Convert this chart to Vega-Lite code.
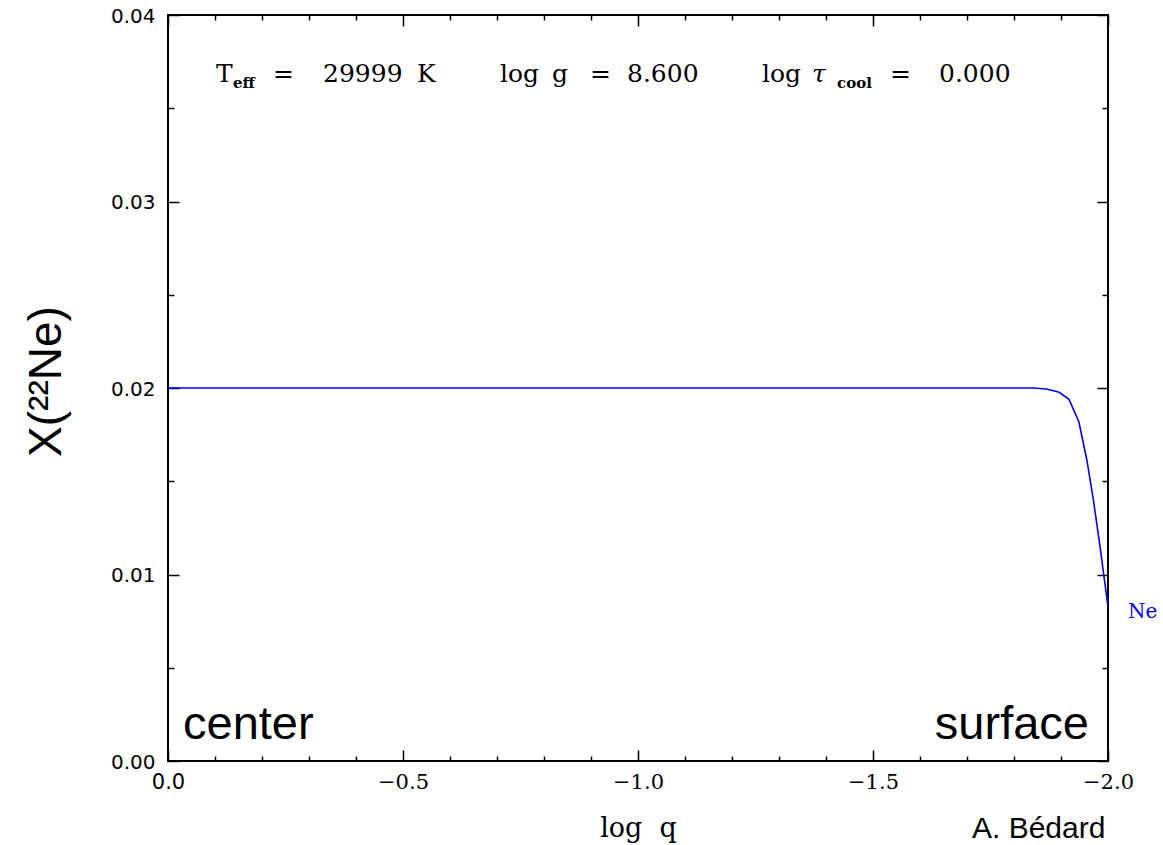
{
  "$schema": "https://vega.github.io/schema/vega-lite/v6.json",
  "width": 940,
  "height": 746,
  "autosize": {"type": "none"},
  "padding": {"left": 168, "top": 15, "right": 55, "bottom": 84},
  "background": "white",
  "config": {
    "view": {"stroke": "#000000", "strokeWidth": 2},
    "axis": {"grid": false, "domain": false, "tickColor": "#000000", "tickWidth": 1.5, "labelColor": "#000000", "titleColor": "#000000"},
    "text": {"color": "#000000"}
  },
  "data": {
    "values": [
      {"logq": 0.0, "X": 0.0200},
      {"logq": -1.0, "X": 0.0200},
      {"logq": -1.84, "X": 0.0200},
      {"logq": -1.869, "X": 0.01995},
      {"logq": -1.896, "X": 0.01977},
      {"logq": -1.917, "X": 0.01939},
      {"logq": -1.938, "X": 0.01819},
      {"logq": -1.955, "X": 0.01614},
      {"logq": -1.969, "X": 0.01399},
      {"logq": -1.983, "X": 0.01149},
      {"logq": -2.0, "X": 0.00827}
    ]
  },
  "resolve": {"axis": {"x": "independent", "y": "independent"}},
  "layer": [
    {
      "mark": {"type": "line", "color": "#0000ff", "strokeWidth": 1.6, "clip": false},
      "encoding": {
        "x": {
          "field": "logq", "type": "quantitative",
          "scale": {"domain": [0, -2], "nice": false, "zero": false},
          "axis": {
            "orient": "bottom",
            "title": "log\u00a0\u00a0q",
            "titleFont": "DejaVu Serif", "titleFontSize": 27, "titleFontWeight": "normal",
            "titlePadding": 17,
            "values": [0, -0.1, -0.2, -0.3, -0.4, -0.5, -0.6, -0.7, -0.8, -0.9, -1.0, -1.1, -1.2, -1.3, -1.4, -1.5, -1.6, -1.7, -1.8, -1.9, -2.0],
            "tickSize": {"condition": {"test": "abs(datum.value*2 - round(datum.value*2)) < 0.001", "value": -11}, "value": -5},
            "labelExpr": "abs(datum.value*2 - round(datum.value*2)) < 0.001 ? format(datum.value, '.1f') : ''",
            "labelFont": {"condition": {"test": "datum.value == 0", "value": "DejaVu Sans"}, "value": "DejaVu Serif"},
            "labelFontSize": 21,
            "labelPadding": 21,
            "labelFlush": false,
            "labelOverlap": false
          }
        },
        "y": {
          "field": "X", "type": "quantitative",
          "scale": {"domain": [0, 0.04], "nice": false, "zero": false},
          "axis": {
            "orient": "left",
            "title": "X(\u00b2\u00b2Ne)",
            "titleFont": "Liberation Sans", "titleFontSize": 46, "titleFontWeight": "normal",
            "titleAngle": -90, "titleBaseline": "alphabetic", "titleAlign": "center",
            "titleX": -108, "titleY": 366,
            "values": [0, 0.005, 0.01, 0.015, 0.02, 0.025, 0.03, 0.035, 0.04],
            "tickSize": {"condition": {"test": "abs(datum.value*100 - round(datum.value*100)) < 0.001", "value": -11}, "value": -6},
            "labelExpr": "abs(datum.value*100 - round(datum.value*100)) < 0.001 ? format(datum.value, '.2f') : ''",
            "labelFont": "DejaVu Sans", "labelFontSize": 20,
            "labelPadding": 24,
            "labelOffset": 1,
            "labelFlush": false,
            "labelOverlap": false
          }
        }
      }
    },
    {
      "transform": [{"filter": "datum.logq == -2"}],
      "mark": {"type": "text", "text": "Ne", "font": "DejaVu Serif", "fontSize": 20, "color": "#0000ff", "align": "left", "baseline": "alphabetic", "dx": 20, "dy": 11, "clip": false},
      "encoding": {
        "x": {
          "field": "logq", "type": "quantitative",
          "axis": {
            "orient": "top", "title": null, "labels": false,
            "values": [0, -0.1, -0.2, -0.3, -0.4, -0.5, -0.6, -0.7, -0.8, -0.9, -1.0, -1.1, -1.2, -1.3, -1.4, -1.5, -1.6, -1.7, -1.8, -1.9, -2.0],
            "tickSize": {"condition": {"test": "abs(datum.value*2 - round(datum.value*2)) < 0.001", "value": -11}, "value": -5}
          }
        },
        "y": {
          "field": "X", "type": "quantitative",
          "axis": {
            "orient": "right", "title": null, "labels": false,
            "values": [0, 0.005, 0.01, 0.015, 0.02, 0.025, 0.03, 0.035, 0.04],
            "tickSize": {"condition": {"test": "abs(datum.value*100 - round(datum.value*100)) < 0.001", "value": -11}, "value": -6}
          }
        }
      }
    },
    {
      "data": {"values": [{}]},
      "mark": {"type": "text", "text": "center", "font": "Liberation Sans", "fontSize": 47, "align": "left", "baseline": "alphabetic"},
      "encoding": {"x": {"datum": -0.0319, "type": "quantitative", "axis": null}, "y": {"datum": 0.00118, "type": "quantitative", "axis": null}}
    },
    {
      "data": {"values": [{}]},
      "mark": {"type": "text", "text": "surface", "font": "Liberation Sans", "fontSize": 47, "align": "right", "baseline": "alphabetic"},
      "encoding": {"x": {"datum": -1.9596, "type": "quantitative", "axis": null}, "y": {"datum": 0.00118, "type": "quantitative", "axis": null}}
    },
    {
      "data": {"values": [{}]},
      "mark": {"type": "text", "text": "A. Bédard", "font": "Liberation Sans", "fontSize": 30, "align": "left", "baseline": "alphabetic", "clip": false},
      "encoding": {"x": {"datum": -1.7106, "type": "quantitative", "axis": null}, "y": {"datum": -0.00413, "type": "quantitative", "axis": null}}
    },
    {
      "data": {"values": [{}]},
      "mark": {"type": "text", "text": "T", "font": "DejaVu Serif", "fontSize": 25, "align": "left", "baseline": "alphabetic"},
      "encoding": {"x": {"datum": -0.1021, "type": "quantitative", "axis": null}, "y": {"datum": 0.036408, "type": "quantitative", "axis": null}}
    },
    {
      "data": {"values": [{}]},
      "mark": {"type": "text", "text": "eff", "font": "DejaVu Serif", "fontSize": 15, "fontWeight": "bold", "align": "left", "baseline": "alphabetic"},
      "encoding": {"x": {"datum": -0.1383, "type": "quantitative", "axis": null}, "y": {"datum": 0.036086, "type": "quantitative", "axis": null}}
    },
    {
      "data": {"values": [{}]},
      "mark": {"type": "text", "text": "=", "font": "DejaVu Serif", "fontSize": 25, "align": "left", "baseline": "alphabetic"},
      "encoding": {"x": {"datum": -0.2234, "type": "quantitative", "axis": null}, "y": {"datum": 0.036408, "type": "quantitative", "axis": null}}
    },
    {
      "data": {"values": [{}]},
      "mark": {"type": "text", "text": "29999", "font": "DejaVu Serif", "fontSize": 25, "align": "left", "baseline": "alphabetic"},
      "encoding": {"x": {"datum": -0.3298, "type": "quantitative", "axis": null}, "y": {"datum": 0.036408, "type": "quantitative", "axis": null}}
    },
    {
      "data": {"values": [{}]},
      "mark": {"type": "text", "text": "K", "font": "DejaVu Serif", "fontSize": 25, "align": "left", "baseline": "alphabetic"},
      "encoding": {"x": {"datum": -0.5298, "type": "quantitative", "axis": null}, "y": {"datum": 0.036408, "type": "quantitative", "axis": null}}
    },
    {
      "data": {"values": [{}]},
      "mark": {"type": "text", "text": "log", "font": "DejaVu Serif", "fontSize": 25, "align": "left", "baseline": "alphabetic"},
      "encoding": {"x": {"datum": -0.7064, "type": "quantitative", "axis": null}, "y": {"datum": 0.036408, "type": "quantitative", "axis": null}}
    },
    {
      "data": {"values": [{}]},
      "mark": {"type": "text", "text": "g", "font": "DejaVu Serif", "fontSize": 25, "align": "left", "baseline": "alphabetic"},
      "encoding": {"x": {"datum": -0.8170, "type": "quantitative", "axis": null}, "y": {"datum": 0.036408, "type": "quantitative", "axis": null}}
    },
    {
      "data": {"values": [{}]},
      "mark": {"type": "text", "text": "=", "font": "DejaVu Serif", "fontSize": 25, "align": "left", "baseline": "alphabetic"},
      "encoding": {"x": {"datum": -0.8979, "type": "quantitative", "axis": null}, "y": {"datum": 0.036408, "type": "quantitative", "axis": null}}
    },
    {
      "data": {"values": [{}]},
      "mark": {"type": "text", "text": "8.600", "font": "DejaVu Serif", "fontSize": 25, "align": "left", "baseline": "alphabetic"},
      "encoding": {"x": {"datum": -0.9766, "type": "quantitative", "axis": null}, "y": {"datum": 0.036408, "type": "quantitative", "axis": null}}
    },
    {
      "data": {"values": [{}]},
      "mark": {"type": "text", "text": "log", "font": "DejaVu Serif", "fontSize": 25, "align": "left", "baseline": "alphabetic"},
      "encoding": {"x": {"datum": -1.2638, "type": "quantitative", "axis": null}, "y": {"datum": 0.036408, "type": "quantitative", "axis": null}}
    },
    {
      "data": {"values": [{}]},
      "mark": {"type": "text", "text": "τ", "font": "DejaVu Serif", "fontSize": 25, "fontStyle": "italic", "align": "left", "baseline": "alphabetic"},
      "encoding": {"x": {"datum": -1.3702, "type": "quantitative", "axis": null}, "y": {"datum": 0.036408, "type": "quantitative", "axis": null}}
    },
    {
      "data": {"values": [{}]},
      "mark": {"type": "text", "text": "cool", "font": "DejaVu Serif", "fontSize": 15, "fontWeight": "bold", "align": "left", "baseline": "alphabetic"},
      "encoding": {"x": {"datum": -1.4234, "type": "quantitative", "axis": null}, "y": {"datum": 0.036086, "type": "quantitative", "axis": null}}
    },
    {
      "data": {"values": [{}]},
      "mark": {"type": "text", "text": "=", "font": "DejaVu Serif", "fontSize": 25, "align": "left", "baseline": "alphabetic"},
      "encoding": {"x": {"datum": -1.5362, "type": "quantitative", "axis": null}, "y": {"datum": 0.036408, "type": "quantitative", "axis": null}}
    },
    {
      "data": {"values": [{}]},
      "mark": {"type": "text", "text": "0.000", "font": "DejaVu Serif", "fontSize": 25, "align": "left", "baseline": "alphabetic"},
      "encoding": {"x": {"datum": -1.6404, "type": "quantitative", "axis": null}, "y": {"datum": 0.036408, "type": "quantitative", "axis": null}}
    }
  ]
}
